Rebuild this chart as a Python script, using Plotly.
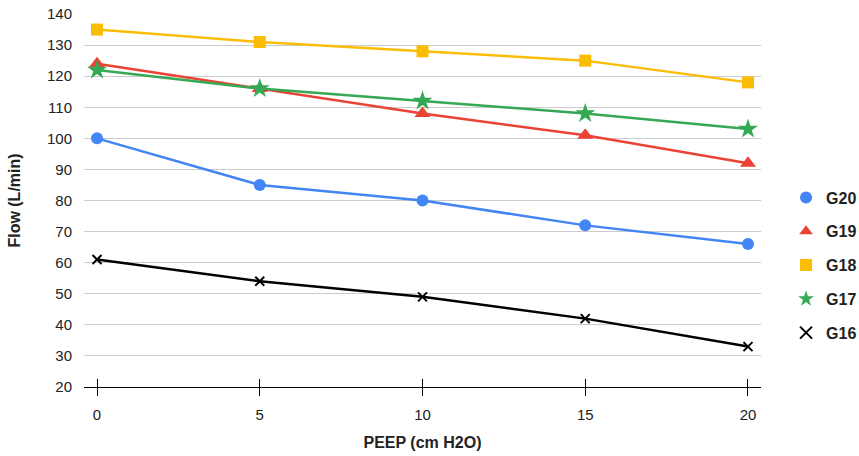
import plotly.graph_objects as go

peep = [0, 5, 10, 15, 20]
g20 = [100, 85, 80, 72, 66]
g19 = [124, 116, 108, 101, 92]
g18 = [135, 131, 128, 125, 118]
g17 = [122, 116, 112, 108, 103]
g16 = [61, 54, 49, 42, 33]

series = [
    ("G20", g20, "#4285F4", "circle", 12),
    ("G19", g19, "#EA4335", "triangle-up", 14),
    ("G18", g18, "#FBBC04", "square", 12),
    ("G17", g17, "#34A853", "star", 15),
    ("G16", g16, "#000000", "x-thin", 9),
]

fig = go.Figure()
for name, vals, color, sym, size in series:
    marker = dict(symbol=sym, size=size, color=color)
    if sym == "x-thin":
        marker["line"] = dict(color=color, width=2)
    fig.add_trace(go.Scatter(
        x=peep, y=vals, name=name, mode="lines+markers",
        line=dict(color=color, width=2.5), marker=marker,
        showlegend=False,
    ))
# legend-only entries (marker only)
for name, vals, color, sym, size in series:
    marker = dict(symbol=sym, size=size + (4 if sym == "circle" else 0), color=color)
    if sym == "x-thin":
        marker["line"] = dict(color=color, width=2)
    fig.add_trace(go.Scatter(
        x=[None], y=[None], name=f"<b>{name}</b>", mode="markers",
        marker=marker, legendgroup=name, showlegend=True,
    ))

# invisible trace on overlay axis for upward tick marks
fig.add_trace(go.Scatter(x=peep, y=g20, xaxis="x2", showlegend=False,
                         mode="none", hoverinfo="skip"))

fig.update_layout(
    width=859, height=456,
    margin=dict(l=84, r=98, t=14, b=69, autoexpand=False),
    plot_bgcolor="white", paper_bgcolor="white",
    font=dict(family="Liberation Sans, Arial, sans-serif", size=15, color="#222222"),
    xaxis=dict(
        range=[-0.4, 20.4], tickvals=peep, ticks="outside", ticklen=8,
        tickcolor="#000", tickwidth=1, showline=True, linecolor="#000", linewidth=1,
        showgrid=False, zeroline=False, ticklabelstandoff=6, automargin=False,
        ticklabeloverflow="allow",
        title=dict(text="<b>PEEP (cm H2O)</b>", font=dict(size=16, color="#222"), standoff=14),
    ),
    xaxis2=dict(
        overlaying="x", matches="x", side="bottom", anchor="y",
        range=[-0.4, 20.4], tickvals=peep, ticks="inside", ticklen=8,
        tickcolor="#000", tickwidth=1, showticklabels=False, showgrid=False,
        zeroline=False, showline=False, automargin=False,
    ),
    yaxis=dict(
        range=[20, 140], dtick=10, showgrid=True, gridcolor="#cccccc", gridwidth=1,
        zeroline=False, showline=False, ticks="", ticklabelstandoff=11, automargin=False,
        ticklabeloverflow="allow",
        title=dict(text="<b>Flow (L/min)</b>", font=dict(size=16, color="#222"), standoff=22),
    ),
    legend=dict(
        x=1.037, xanchor="left", y=0.327, yanchor="middle",
        font=dict(size=16, color="#222"), tracegroupgap=10,
        itemsizing="constant", bgcolor="rgba(0,0,0,0)",
    ),
    showlegend=True,
)
fig.write_html(
    "out.html",
    config={"displayModeBar": False},
    post_script="document.body.style.margin='0';document.body.style.overflow='hidden';",
)
